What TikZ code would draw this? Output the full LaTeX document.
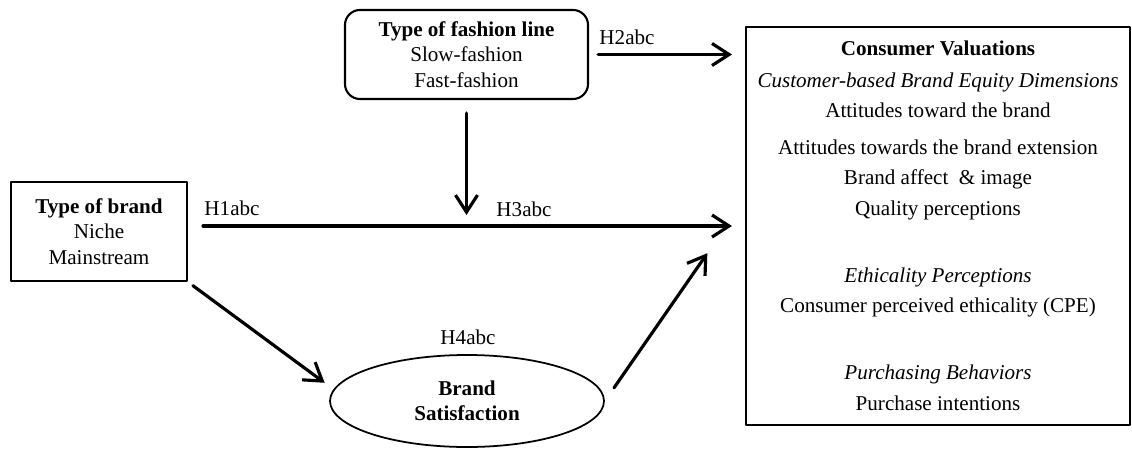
\documentclass[tikz,border=0pt]{standalone}
\usepackage{fontspec}
\setmainfont{Liberation Serif}
\usepackage{tikz}
\usetikzlibrary{arrows.meta,shapes.geometric}

\begin{document}
\begin{tikzpicture}[line cap=round, line join=round,
    every node/.style={font=\fontsize{12}{14.4}\selectfont},
    box/.style={draw, line width=1.2pt, align=center, inner sep=0pt},
    arr/.style={line width=1.8pt, -{Straight Barb[length=3.4mm,width=4.4mm]}}]
    \useasboundingbox (0,0) rectangle (22.64,-8.98);

    % Nodes
    \node[box, rounded corners=0.3cm, minimum width=4.86cm, minimum height=1.78cm] (fashion) at (9.33,-1.09)
        {\textbf{Type of fashion line}\\Slow-fashion\\Fast-fashion};
    \node[box, minimum width=3.52cm, minimum height=1.98cm] (brand) at (1.98,-4.63)
        {\textbf{Type of brand}\\Niche\\Mainstream};
    \node[box, ellipse, line width=1pt, minimum width=5.48cm, minimum height=1.84cm] (sat) at (9.34,-8.02)
        {\textbf{Brand}\\\textbf{Satisfaction}};
    \node[box, minimum width=7.68cm, minimum height=7.96cm, font=\fontsize{12}{17.1}\selectfont] (cv) at (18.76,-4.52)
        {\textbf{Consumer Valuations}\\[1.1pt]
         \textit{Customer-based Brand Equity Dimensions}\\
         Attitudes toward the brand\\[3.9pt]
         Attitudes towards the brand extension\\
         Brand affect~~\& image\\[0.5pt]
         Quality perceptions\\[21pt]
         \textit{Ethicality Perceptions}\\
         Consumer perceived ethicality (CPE)\\[21pt]
         \textit{Purchasing Behaviors}\\[0.5pt]
         Purchase intentions};

    % Labels
    \node (h1) at (4.64,-4.16) {H1abc};
    \node (h2) at (12.54,-0.74) {H2abc};
    \node (h3) at (10.48,-4.18) {H3abc};
    \node (h4) at (9.36,-6.74) {H4abc};

    % Connections
    \coordinate (aim) at ([yshift=0.54cm]cv.west);
    \draw[arr, shorten <=0.18cm, shorten >=0.26cm] (fashion.east) -- (fashion.east -| cv.west);
    \draw[arr, shorten <=0.3cm, shorten >=0.26cm] (brand.east |- cv.west) -- (cv.west);
    \draw[arr, shorten <=0.26cm, shorten >=0.22cm] (fashion.south) -- (fashion.south |- cv.west);
    \draw[arr, shorten <=0.12cm, shorten >=0.22cm] (brand.south east) -- (sat.175);
    \draw[arr, shorten <=0.32cm, shorten >=1.32cm] (sat.east) -- (aim);
\end{tikzpicture}
\end{document}
